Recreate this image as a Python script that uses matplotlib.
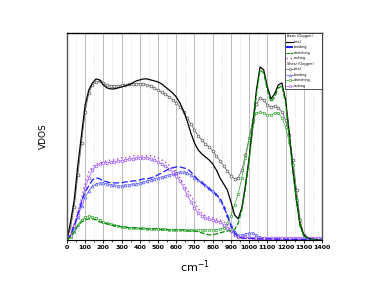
import numpy as np
import matplotlib
matplotlib.use('Agg')
import matplotlib.pyplot as plt
from matplotlib.lines import Line2D
import matplotlib.ticker as ticker

# frequency grid (cm^-1), one value every 20
freq = np.arange(0, 1401, 20)

# Basic (Oxygen)
basic_total = [0, 18, 40, 75, 105, 135, 150, 157, 161, 160, 155, 152, 151, 151, 152, 153, 154, 155, 157, 159,
               160, 161, 161, 160, 159, 158, 156, 153, 150, 147, 143, 137, 129, 119, 107, 97, 90, 86, 83, 80,
               76, 70, 62, 56, 50, 38, 25, 21, 32, 55, 82, 115, 150, 173, 170, 153, 141, 146, 155, 157,
               140, 108, 70, 40, 15, 5, 2, 1, 0.5, 0, 0]
basic_bending = [0, 5, 14, 26, 38, 48, 54, 60, 62, 61, 59, 58, 57, 57, 57, 57, 58, 58, 59, 59,
                 60, 61, 61, 62, 63, 65, 67, 69, 71, 72, 73, 73, 72, 71, 68, 64, 60, 57, 54, 51,
                 48, 45, 42, 34, 24, 14, 7, 3, 2, 1.5, 1.5, 1.5, 1, 1, 1, 1, 1, 0.8, 0.8, 0.8,
                 0.6, 0.6, 0.5, 0.5, 0.5, 0.4, 0.4, 0.4, 0.3, 0.3, 0.3]
basic_stretching = [0, 3, 8, 14, 18, 20, 21, 21, 20, 18, 17, 16, 15, 14, 14, 13, 13, 12, 12, 12,
                    11, 11, 11, 11, 11, 11, 10, 10, 10, 10, 10, 10, 10, 9, 9, 9, 8, 7, 6, 5,
                    5, 6, 7, 8, 9, 9, 10, 17, 30, 52, 80, 112, 146, 170, 167, 150, 138, 143, 152, 154,
                    137, 105, 68, 38, 14, 4, 1.5, 0.5, 0, 0, 0]
basic_rocking = [0, 6, 16, 28, 42, 56, 68, 73, 76, 77, 78, 79, 80, 80, 81, 82, 82, 83, 84, 84,
                 84, 84, 84, 84, 83, 82, 80, 78, 75, 72, 68, 62, 56, 50, 44, 38, 31, 27, 24, 23,
                 22, 21, 20, 18, 15, 10, 4, 2, 1.5, 1.5, 1.5, 1.2, 1.2, 1.2, 1, 1, 1, 1, 1, 1,
                 1, 1, 1, 1, 1, 1, 1, 1, 1, 1, 1]

# Shear (Oxygen)
shear_total = [0, 12, 33, 65, 97, 128, 147, 155, 158, 159, 157, 155, 154, 154, 154, 155, 155, 156, 156, 156,
               156, 156, 155, 154, 152, 150, 148, 146, 143, 140, 137, 133, 128, 122, 116, 110, 104, 100, 96, 93,
               89, 84, 79, 74, 69, 64, 61, 62, 70, 85, 102, 120, 136, 142, 140, 135, 133, 134, 132, 128,
               120, 105, 80, 50, 20, 5, 2, 1, 0.5, 0, 0]
shear_bending = [0, 4, 12, 23, 34, 43, 49, 54, 56, 57, 57, 56, 55, 55, 54, 54, 55, 55, 56, 56,
                 57, 58, 59, 60, 61, 62, 63, 64, 65, 66, 67, 68, 68, 67, 65, 62, 60, 58, 55, 52,
                 49, 46, 40, 33, 25, 15, 8, 5, 5, 6, 7, 7, 5, 3, 2, 1.5, 1, 1, 1, 0.8,
                 0.8, 0.7, 0.6, 0.6, 0.5, 0.5, 0.5, 0.5, 0.5, 0.5, 0.5]
shear_stretching = [0, 3, 8, 15, 20, 23, 24, 23, 22, 20, 18, 17, 16, 15, 14, 13, 13, 12, 12, 12,
                    12, 12, 11, 11, 11, 11, 11, 11, 10, 10, 10, 10, 10, 10, 10, 10, 10, 10, 10, 10,
                    10, 10, 11, 12, 17, 24, 35, 46, 62, 82, 100, 118, 127, 128, 127, 125, 125, 127, 127, 122,
                    113, 98, 75, 40, 15, 3, 1, 0.5, 0, 0, 0]
shear_rocking = [0, 5, 14, 25, 38, 52, 62, 70, 74, 76, 77, 77, 78, 78, 79, 79, 80, 81, 81, 82,
                 82, 82, 82, 81, 80, 78, 76, 74, 71, 68, 64, 59, 52, 45, 38, 32, 27, 24, 22, 21,
                 20, 19, 18, 15, 12, 9, 5, 3, 2.5, 2.5, 2.5, 2, 2, 2, 2, 2, 2, 2, 2, 2,
                 2, 2, 2, 2, 2, 2, 2, 2, 2, 2, 2]

BLACK = '#000000'
GRAY = '#555555'
BLUE = '#1a1aff'
LBLUE = '#5a5aff'
GREEN = '#008a00'
LGREEN = '#3aaa3a'
PURPLE = '#a020f0'
LPURPLE = '#9a50ff'

fig = plt.figure(figsize=(3.74, 2.89), dpi=100)
ax = fig.add_axes([0.179, 0.170, 0.682, 0.716])

ms = 2.0
mew = 0.5
ax.plot(freq, shear_total, '-', color=GRAY, lw=0.5, marker='o', ms=ms, mfc='white', mec=GRAY, mew=mew)
ax.plot(freq, shear_bending, '-', color=LBLUE, lw=0.5, marker='^', ms=ms, mfc='white', mec=LBLUE, mew=mew)
ax.plot(freq, shear_stretching, '-', color=LGREEN, lw=0.5, marker='s', ms=ms, mfc='white', mec=LGREEN, mew=mew)
ax.plot(freq, shear_rocking, '-', color=LPURPLE, lw=0.5, marker='o', ms=ms, mfc='white', mec=LPURPLE, mew=mew)

ax.plot(freq, basic_total, '-', color=BLACK, lw=0.9)
ax.plot(freq, basic_bending, color=BLUE, lw=0.9, dashes=(5, 2))
ax.plot(freq, basic_stretching, color=GREEN, lw=0.9, dashes=(4, 1.5))
ax.plot(freq, basic_rocking, color=PURPLE, lw=1.0, dashes=(0.8, 2.2))

ax.set_xlim(0, 1400)
ax.set_ylim(0, 207)
ax.xaxis.set_major_locator(ticker.MultipleLocator(100))
ax.xaxis.set_minor_locator(ticker.MultipleLocator(50))
ax.grid(axis='x', which='major', color='#bbbbbb', lw=0.7)
ax.grid(axis='x', which='minor', color='#cccccc', lw=0.5, ls=':')
ax.set_axisbelow(True)
ax.set_yticks([])
ax.tick_params(axis='x', which='major', direction='out', length=2.5, width=0.6, labelsize=4.5, pad=1.5)
ax.tick_params(axis='x', which='minor', direction='out', length=1.5, width=0.5)
for lab in ax.get_xticklabels():
    lab.set_fontweight('bold')
for side in ['left', 'right']:
    ax.spines[side].set_color('#555555')
    ax.spines[side].set_linewidth(1.0)
ax.spines['top'].set_linewidth(1.0)
ax.spines['bottom'].set_linewidth(0.8)

ax.set_ylabel('VDOS', fontsize=6.5, labelpad=14)
ax.set_xlabel('cm$^{-1}$', fontsize=8, labelpad=6)

blank = Line2D([], [], color='none')
handles = [
    blank,
    Line2D([], [], color=BLACK, lw=0.8),
    Line2D([], [], color=BLUE, lw=1.4, dashes=(5, 2)),
    Line2D([], [], color=GREEN, lw=0.8, dashes=(3, 1)),
    Line2D([], [], color=PURPLE, lw=1.0, dashes=(0.8, 2.2)),
    blank,
    Line2D([], [], color=GRAY, lw=0.5, marker='o', ms=1.6, mfc='white', mec=GRAY, mew=0.4),
    Line2D([], [], color=LBLUE, lw=0.5, marker='^', ms=1.6, mfc='white', mec=LBLUE, mew=0.4),
    Line2D([], [], color=LGREEN, lw=0.5, marker='s', ms=1.6, mfc='white', mec=LGREEN, mew=0.4),
    Line2D([], [], color=LPURPLE, lw=0.5, marker='o', ms=1.6, mfc='white', mec=LPURPLE, mew=0.4),
]
labels = ['Basic (Oxygen)', 'total', 'bending', 'stretching', 'rocking',
          'Shear (Oxygen)', 'total', 'bending', 'stretching', 'rocking']
leg = ax.legend(handles, labels, loc='upper right', fontsize=2.4, frameon=True, fancybox=False,
                borderaxespad=0, handlelength=1.9, handletextpad=0.3, labelspacing=0.45,
                borderpad=0.45, framealpha=1)
leg.get_frame().set_edgecolor('#333333')
leg.get_frame().set_linewidth(0.6)
# header rows: shift text left over the empty handle
for i in (0, 5):
    leg.get_texts()[i].set_position((-7, 0))

fig.savefig('out.png', dpi=100)
